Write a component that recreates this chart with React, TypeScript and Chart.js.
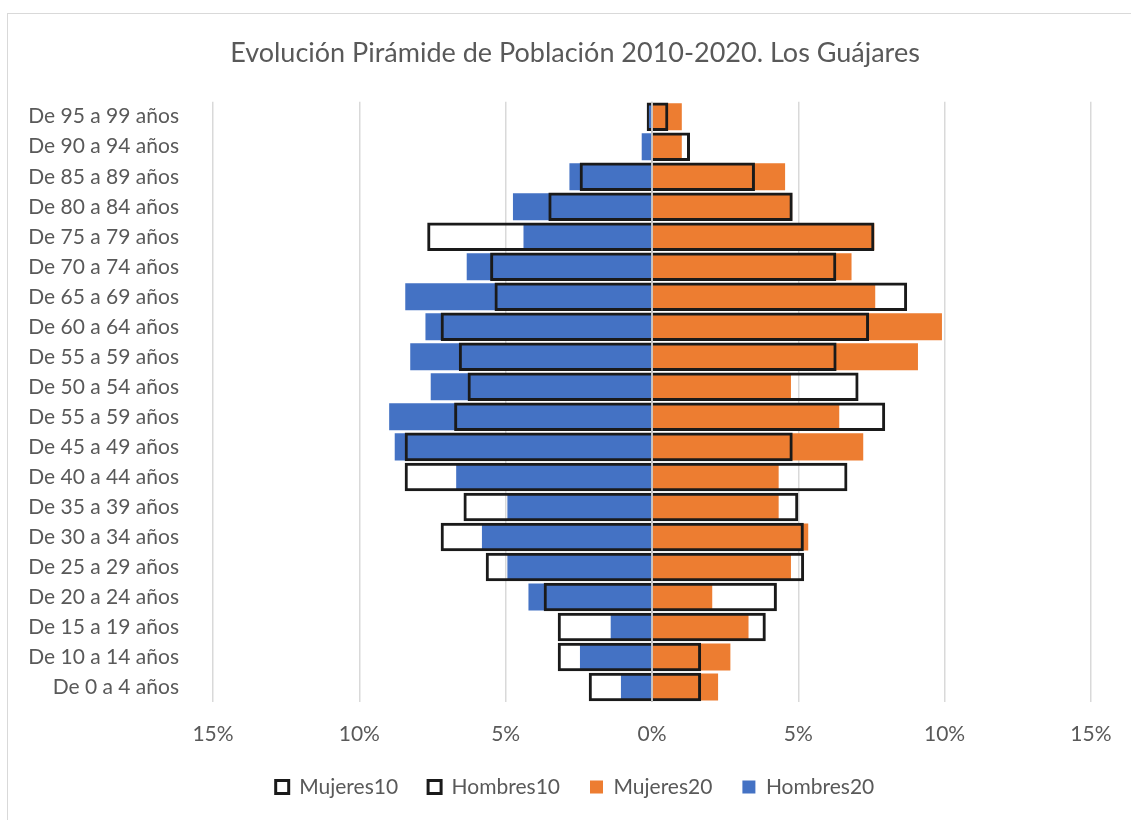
import React, { useEffect, useRef } from "react";
import { Chart, registerables } from "chart.js";

Chart.register(...registerables);

const labels = [
  "De 95 a 99 años",
  "De 90 a 94 años",
  "De 85 a 89 años",
  "De 80 a 84 años",
  "De 75 a 79 años",
  "De 70 a 74 años",
  "De 65 a 69 años",
  "De 60 a 64 años",
  "De 55 a 59 años",
  "De 50 a 54 años",
  "De 55 a 59 años",
  "De 45 a 49 años",
  "De 40 a 44 años",
  "De 35 a 39 años",
  "De 30 a 34 años",
  "De 25 a 29 años",
  "De 20 a 24 años",
  "De 15 a 19 años",
  "De 10 a 14 años",
  "De 0 a 4 años",
];

const mujeres10 = [0.56, 1.3, 3.52, 4.81, 7.6, 6.3, 8.72, 7.42, 6.31, 7.06, 7.97, 4.81, 6.68, 5.0, 5.19, 5.2, 4.27, 3.89, 1.68, 1.68];
const hombres10 = [0.18, 0, 2.47, 3.54, 7.68, 5.53, 5.38, 7.22, 6.6, 6.3, 6.76, 8.45, 8.45, 6.44, 7.22, 5.68, 3.7, 3.22, 3.22, 2.16];
const mujeres20 = [1.02, 1.02, 4.55, 4.79, 7.6, 6.82, 7.63, 9.91, 9.09, 4.75, 6.4, 7.22, 4.33, 4.33, 5.34, 4.75, 2.06, 3.3, 2.68, 2.26];
const hombres20 = [0.11, 0.35, 2.82, 4.75, 4.39, 6.33, 8.43, 7.74, 8.26, 7.56, 8.98, 8.79, 6.69, 4.94, 5.81, 4.94, 4.22, 1.41, 2.46, 1.06];

const seriesNames = ["Mujeres10", "Hombres10", "Mujeres20", "Hombres20"];
const xTicks = [-15, -10, -5, 0, 5, 10, 15];
const title = "Evolución Pirámide de Población 2010-2020. Los Guájares";

const FONT = "Lato, 'Open Sans', sans-serif";
const TEXT = "#595959";

const zeroLine = {
  id: "zeroLine",
  afterLayout(chart: any) {
    // let the category labels extend into the left padding without being clipped
    chart.scales.y.left = 0;
  },
  afterDatasetsDraw(chart: any) {
    const x = chart.scales.x.getPixelForValue(0);
    const { top, bottom } = chart.chartArea;
    const ctx = chart.ctx;
    ctx.save();
    ctx.strokeStyle = "#bfbfbf";
    ctx.lineWidth = 1.5;
    ctx.beginPath();
    ctx.moveTo(x, top);
    ctx.lineTo(x, bottom);
    ctx.stroke();
    ctx.restore();
  },
};

export default function App() {
  const ref = useRef<HTMLCanvasElement | null>(null);

  useEffect(() => {
    if (!ref.current) return;
    const outline = {
      backgroundColor: "rgba(255,255,255,0)",
      borderColor: "#1a1a1a",
      borderWidth: 3,
      borderSkipped: "start",
      grouped: false,
      barPercentage: 0.95,
      categoryPercentage: 1,
    };
    const filled = {
      borderWidth: 0,
      grouped: false,
      barPercentage: 0.9,
      categoryPercentage: 1,
    };
    const chart = new Chart(ref.current, {
      type: "bar",
      plugins: [zeroLine],
      data: {
        labels,
        datasets: [
          { label: seriesNames[0], data: mujeres10, ...outline },
          { label: seriesNames[1], data: hombres10.map((v) => -v), ...outline },
          { label: seriesNames[2], data: mujeres20, backgroundColor: "#ED7D31", ...filled },
          { label: seriesNames[3], data: hombres20.map((v) => -v), backgroundColor: "#4472C4", ...filled },
        ] as any,
      },
      options: {
        indexAxis: "y",
        animation: false,
        responsive: false,
        maintainAspectRatio: false,
        layout: { padding: { left: 58, right: 39, top: 0, bottom: 12.5 } },
        plugins: {
          title: {
            display: true,
            text: title,
            color: TEXT,
            font: { family: FONT, size: 27, weight: "normal" },
            padding: { top: 37, bottom: 32.3 },
          },
          legend: {
            position: "bottom",
            labels: {
              color: TEXT,
              font: { family: FONT, size: 21 },
              boxWidth: 13,
              boxHeight: 13,
              padding: 30,
            },
          },
          tooltip: { enabled: false },
        },
        scales: {
          x: {
            type: "linear",
            min: -15,
            max: 15,
            afterBuildTicks(scale: any) {
              scale.ticks = xTicks.map((v) => ({ value: v }));
            },
            afterFit(scale: any) {
              scale.height = 44.5;
            },
            ticks: {
              color: TEXT,
              font: { family: FONT, size: 21 },
              padding: 19.5,
              callback: (v: any) => Math.abs(Number(v)) + "%",
            },
            grid: { color: "#d9d9d9", lineWidth: 1.5, drawTicks: false },
            border: { display: false },
          },
          y: {
            type: "category",
            afterFit(scale: any) {
              scale.width = 155;
            },
            ticks: {
              color: TEXT,
              font: { family: FONT, size: 21 },
              padding: 34,
              autoSkip: false,
            },
            grid: { display: false, drawTicks: false },
            border: { display: false },
          },
        },
      } as any,
    });
    return () => chart.destroy();
  }, []);

  return (
    <div style={{ position: "fixed", left: 0, top: 0, width: 1131, height: 820, overflow: "hidden", background: "#fff" }}>
      <div
        style={{
          position: "absolute",
          left: 7,
          top: 13,
          width: 1200,
          height: 900,
          border: "1px solid #d9d9d9",
          boxSizing: "border-box",
        }}
      />
      <canvas ref={ref} width={1131} height={820} style={{ position: "absolute", left: 0, top: 0, display: "block" }} />
    </div>
  );
}
